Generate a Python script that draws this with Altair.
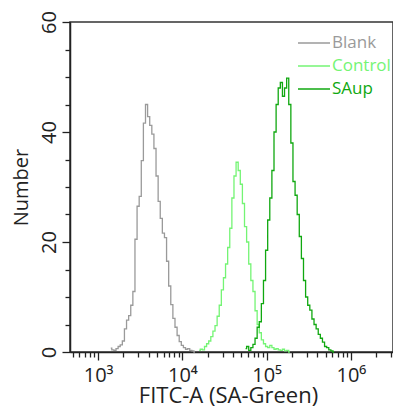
import altair as alt
import pandas as pd

# Histogram counts; bins are 0.025 decades wide
STEP = 0.025
blank_start = 3.15
blank_counts = [0.7, 0.4, 0.3, 0.6, 1.0, 1.3, 2.0, 4.2, 5.8, 6.6, 8.5, 11.0, 20.5, 26.5,
                28.3, 34.8, 41.6, 45.0, 42.8, 41.2, 39.6, 37.0, 32.0, 27.4, 24.3, 21.6,
                20.8, 16.5, 12.0, 8.6, 6.1, 4.5, 3.0, 1.9, 1.2, 0.8, 0.5, 0.6, 0.3, 0.2, 0.0]
control_start = 4.2
control_counts = [0.3, 0.5, 0.4, 1.0, 1.5, 2.0, 2.8, 3.8, 4.8, 6.5, 8.5, 11.3, 13.5, 16.0,
                  19.0, 22.5, 28.0, 32.0, 34.5, 33.0, 30.5, 27.0, 22.8, 20.0, 16.0, 13.0,
                  11.0, 7.5, 5.0, 3.5, 2.2, 1.5, 1.0, 0.8, 1.2, 0.8, 0.5, 0.6, 0.4, 0.3,
                  0.5, 0.2, 0.3, 0.0]
saup_start = 4.75
saup_counts = [0.6, 1.0, 0.3, 0.8, 1.4, 2.5, 4.5, 5.5, 8.8, 13.0, 18.5, 24.0, 28.0, 33.0,
               40.0, 45.0, 48.0, 49.0, 46.5, 48.0, 49.8, 45.0, 38.0, 31.0, 28.5, 25.0,
               21.0, 17.0, 13.0, 10.0, 8.5, 7.6, 6.0, 5.0, 4.2, 3.2, 2.5, 1.8, 1.0, 0.8,
               0.4, 0.2, 0.0]

series_names = ["Blank", "Control", "SAup"]
series_colors = ["#9a9a9a", "#74f474", "#10a810"]

x_ticks = [500, 600, 700, 800, 900,
           1000, 2000, 3000, 4000, 5000, 6000, 7000, 8000, 9000,
           10000, 20000, 30000, 40000, 50000, 60000, 70000, 80000, 90000,
           100000, 200000, 300000, 400000, 500000, 600000, 700000, 800000, 900000,
           1000000, 2000000, 3000000]
y_ticks = [0, 5, 10, 15, 20, 25, 30, 35, 40, 45, 50, 55, 60]

rows = []
for name, start, counts in [("Blank", blank_start, blank_counts),
                            ("Control", control_start, control_counts),
                            ("SAup", saup_start, saup_counts)]:
    for i, c in enumerate(counts):
        rows.append({"series": name, "fitc": 10 ** (start + i * STEP), "count": c})
df = pd.DataFrame(rows)

FONT = "Open Sans"

x_label_expr = ("datum.value == 1000 ? '10³' : datum.value == 10000 ? '10⁴' : "
                "datum.value == 100000 ? '10⁵' : datum.value == 1000000 ? '10⁶' : ''")

chart = alt.Chart(df).mark_line(interpolate="step", strokeWidth=1.3).encode(
    x=alt.X("fitc:Q",
            scale=alt.Scale(type="log", domain=[464, 3160000]),
            axis=alt.Axis(values=x_ticks, labelExpr=x_label_expr, grid=False,
                          labelOverlap=False, labelFlush=False,
                          tickSize={"condition": {"test": "indexof([1000,10000,100000,1000000], datum.value) >= 0", "value": 8}, "value": 5},
                          tickColor="#222", domainColor="#222", domainWidth=1.5, tickWidth=1.3,
                          labelFontSize=20, labelFont=FONT, labelColor="#222", labelPadding=5,
                          title="FITC-A (SA-Green)", titleFontSize=22, titleFont=FONT,
                          titleFontWeight="normal", titleColor="#222",
                          titleBaseline="alphabetic", titleX=158, titleY=50)),
    y=alt.Y("count:Q",
            scale=alt.Scale(domain=[0, 60], nice=False),
            axis=alt.Axis(values=y_ticks,
                          labelExpr="datum.value % 20 == 0 ? datum.label : ''",
                          grid=False, labelOverlap=False, labelFlush=False,
                          tickSize={"condition": {"test": "datum.value % 20 == 0", "value": 8}, "value": 5},
                          tickColor="#222", domainColor="#222", domainWidth=1.5, tickWidth=1.3,
                          labelAngle=-90, labelAlign="center", labelBaseline="bottom",
                          labelFontSize=20, labelFont=FONT, labelColor="#222", labelPadding=3,
                          title="Number", titleFontSize=20, titleFont=FONT,
                          titleFontWeight="normal", titleColor="#222", titlePadding=8)),
    color=alt.Color("series:N",
                    scale=alt.Scale(domain=series_names, range=series_colors),
                    title=None,
                    legend=alt.Legend(orient="none", legendX=227, legendY=9.5,
                                      symbolType="stroke", symbolSize=1024,
                                      symbolStrokeWidth=1.5, labelOffset=1,
                                      labelFontSize=17, labelFont=FONT,
                                      clipHeight=23, rowPadding=0,
                                      labelColor={"expr": "datum.value == 'Blank' ? '#9a9a9a' : datum.value == 'Control' ? '#74f474' : '#10a810'"})),
    order=alt.Order("series:N"),
).properties(
    width=323, height=330,
    autosize=alt.AutoSizeParams(type="none"),
    padding={"left": 62, "top": 14, "right": 0, "bottom": 56},
).configure_view(
    stroke="#333", strokeWidth=1.5
)

chart.save("out.html", embed_options={"renderer": "svg", "actions": False})
